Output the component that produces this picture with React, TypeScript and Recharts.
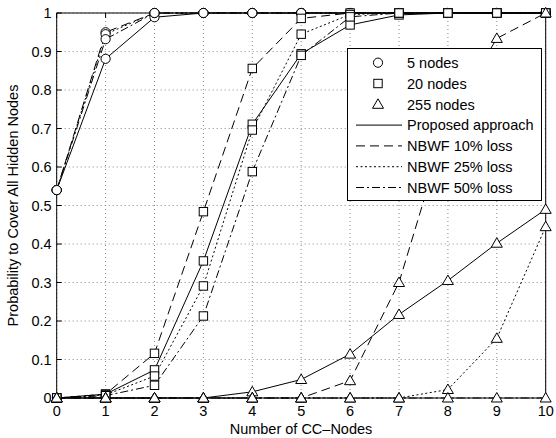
import React from 'react';
import { LineChart, Line, XAxis, YAxis, CartesianGrid, Legend } from 'recharts';

const X_VALUES = [0, 1, 2, 3, 4, 5, 6, 7, 8, 9, 10];
const X_TICKS = [0, 1, 2, 3, 4, 5, 6, 7, 8, 9, 10];
const Y_TICKS = [0, 0.1, 0.2, 0.3, 0.4, 0.5, 0.6, 0.7, 0.8, 0.9, 1];

// 5 nodes
const N5_PROPOSED = [0.54, 0.881, 0.989, 1, 1, 1, 1, 1, 1, 1, 1];
const N5_LOSS10 = [0.54, 0.95, 1, 1, 1, 1, 1, 1, 1, 1, 1];
const N5_LOSS25 = [0.54, 0.945, 1, 1, 1, 1, 1, 1, 1, 1, 1];
const N5_LOSS50 = [0.54, 0.932, 1, 1, 1, 1, 1, 1, 1, 1, 1];

// 20 nodes
const N20_PROPOSED = [0, 0.01, 0.073, 0.356, 0.711, 0.894, 0.969, 0.995, 1, 1, 1];
const N20_LOSS10 = [0, 0.01, 0.116, 0.484, 0.856, 0.986, 1, 1, 1, 1, 1];
const N20_LOSS25 = [0, 0.008, 0.057, 0.291, 0.696, 0.945, 0.996, 1, 1, 1, 1];
const N20_LOSS50 = [0, 0.006, 0.033, 0.213, 0.588, 0.89, 0.99, 1, 1, 1, 1];

// 255 nodes
const N255_PROPOSED = [0, 0, 0, 0, 0.016, 0.048, 0.114, 0.217, 0.305, 0.402, 0.49];
const N255_LOSS10 = [0, 0, 0, 0, 0, 0, 0.045, 0.3, 0.72, 0.934, 1];
const N255_LOSS25 = [0, 0, 0, 0, 0, 0, 0, 0, 0.022, 0.155, 0.445];
const N255_LOSS50 = [0, 0, 0, 0, 0, 0, 0, 0, 0, 0, 0];

const NODE_LABELS = ['5 nodes', '20 nodes', '255 nodes'];
const METHOD_LABELS = ['Proposed approach', 'NBWF 10% loss', 'NBWF 25% loss', 'NBWF 50% loss'];

const FONT = '"Liberation Sans", Arial, Helvetica, sans-serif';
const DASHES = [undefined, '9 5', '2 2.5', '8 3 2 3'];

type Marker = 'circle' | 'square' | 'triangle';

const series = [
  { key: 'n5p', values: N5_PROPOSED, marker: 'circle', dash: 0 },
  { key: 'n5a', values: N5_LOSS10, marker: 'circle', dash: 1 },
  { key: 'n5b', values: N5_LOSS25, marker: 'circle', dash: 2 },
  { key: 'n5c', values: N5_LOSS50, marker: 'circle', dash: 3 },
  { key: 'n20p', values: N20_PROPOSED, marker: 'square', dash: 0 },
  { key: 'n20a', values: N20_LOSS10, marker: 'square', dash: 1 },
  { key: 'n20b', values: N20_LOSS25, marker: 'square', dash: 2 },
  { key: 'n20c', values: N20_LOSS50, marker: 'square', dash: 3 },
  { key: 'n255p', values: N255_PROPOSED, marker: 'triangle', dash: 0 },
  { key: 'n255a', values: N255_LOSS10, marker: 'triangle', dash: 1 },
  { key: 'n255b', values: N255_LOSS25, marker: 'triangle', dash: 2 },
  { key: 'n255c', values: N255_LOSS50, marker: 'triangle', dash: 3 },
] as { key: string; values: number[]; marker: Marker; dash: number }[];

const data = X_VALUES.map((x, i) => {
  const row: Record<string, number> = { x };
  series.forEach(s => {
    row[s.key] = s.values[i];
  });
  return row;
});

const drawMarker = (marker: Marker, cx: number, cy: number, key?: string) => {
  if (marker === 'circle') {
    return <circle key={key} cx={cx} cy={cy} r={4.6} fill="#fff" stroke="#000" strokeWidth={1} />;
  }
  if (marker === 'square') {
    return <rect key={key} x={cx - 4.2} y={cy - 4.2} width={8.4} height={8.4} fill="#fff" stroke="#000" strokeWidth={1} />;
  }
  return (
    <polygon
      key={key}
      points={`${cx},${cy - 5.5} ${cx + 5.5},${cy + 4} ${cx - 5.5},${cy + 4}`}
      fill="#fff"
      stroke="#000"
      strokeWidth={1}
    />
  );
};

const renderLegend = () => {
  const rowY = (i: number) => 14.7 + i * 20.8;
  return (
    <svg width={195} height={153} style={{ display: 'block' }}>
      <rect x={0.5} y={0.5} width={194} height={152} fill="#fff" stroke="#000" strokeWidth={1} />
      {NODE_LABELS.map((label, i) => (
        <g key={label}>
          {drawMarker((['circle', 'square', 'triangle'] as Marker[])[i], 31, rowY(i))}
          <text x={60} y={rowY(i)} dy="0.36em" fontSize={14.5} fontFamily={FONT} fill="#000">
            {label}
          </text>
        </g>
      ))}
      {METHOD_LABELS.map((label, j) => (
        <g key={label}>
          <line x1={9} x2={55} y1={rowY(j + 3)} y2={rowY(j + 3)} stroke="#000" strokeWidth={1} strokeDasharray={DASHES[j]} />
          <text x={60} y={rowY(j + 3)} dy="0.36em" fontSize={14.5} fontFamily={FONT} fill="#000">
            {label}
          </text>
        </g>
      ))}
    </svg>
  );
};

const tickStyle = { fontSize: 14.5, fontFamily: FONT, fill: '#000' };

export default function App() {
  return (
    <div style={{ position: 'absolute', left: 0, top: 0, width: 556, height: 438, background: '#fff' }}>
      <LineChart width={556} height={438} data={data} margin={{ top: 12, right: 9.3, bottom: 0, left: 0 }}>
        <CartesianGrid stroke="#888" strokeDasharray="1 3" strokeWidth={1} />
        <XAxis
          dataKey="x"
          type="number"
          domain={[0, 10]}
          ticks={X_TICKS}
          height={40}
          stroke="#000"
          tickSize={-5}
          tickMargin={13}
          tick={tickStyle}
          interval={0}
          label={{
            content: () => (
              <text x={301} y={429} dy="0.36em" textAnchor="middle" fontSize={14.5} fontFamily={FONT} fill="#000">
                Number of CC–Nodes
              </text>
            ),
          }}
        />
        <XAxis
          xAxisId="top"
          orientation="top"
          dataKey="x"
          type="number"
          domain={[0, 10]}
          ticks={X_TICKS}
          height={1}
          stroke="#000"
          tickSize={-5}
          tickFormatter={() => ''}
          interval={0}
        />
        <YAxis
          type="number"
          domain={[0, 1]}
          ticks={Y_TICKS}
          width={56.7}
          stroke="#000"
          tickSize={-5}
          tickMargin={10}
          tick={tickStyle}
          interval={0}
          tickFormatter={(v: number) => String(v)}
          label={{
            content: () => (
              <text
                x={13}
                y={205.5}
                transform="rotate(-90 13 205.5)"
                textAnchor="middle"
                dy="0.36em"
                fontSize={14.5}
                fontFamily={FONT}
                fill="#000"
              >
                Probability to Cover All Hidden Nodes
              </text>
            ),
          }}
        />
        <YAxis
          yAxisId="right"
          orientation="right"
          type="number"
          domain={[0, 1]}
          ticks={Y_TICKS}
          width={1}
          stroke="#000"
          tickSize={-5}
          tickFormatter={() => ''}
          interval={0}
        />
        {series.map(s => (
          <Line
            key={s.key}
            dataKey={s.key}
            type="linear"
            stroke="#000"
            strokeWidth={1}
            strokeDasharray={DASHES[s.dash]}
            isAnimationActive={false}
            activeDot={false}
            dot={(props: any) => drawMarker(s.marker, props.cx, props.cy, `${s.key}-${props.index}`)}
          />
        ))}
        <Legend
          layout="vertical"
          align="center"
          verticalAlign="middle"
          content={renderLegend}
          wrapperStyle={{ position: 'absolute', left: 347, top: 48, width: 195, height: 153 }}
        />
      </LineChart>
    </div>
  );
}
